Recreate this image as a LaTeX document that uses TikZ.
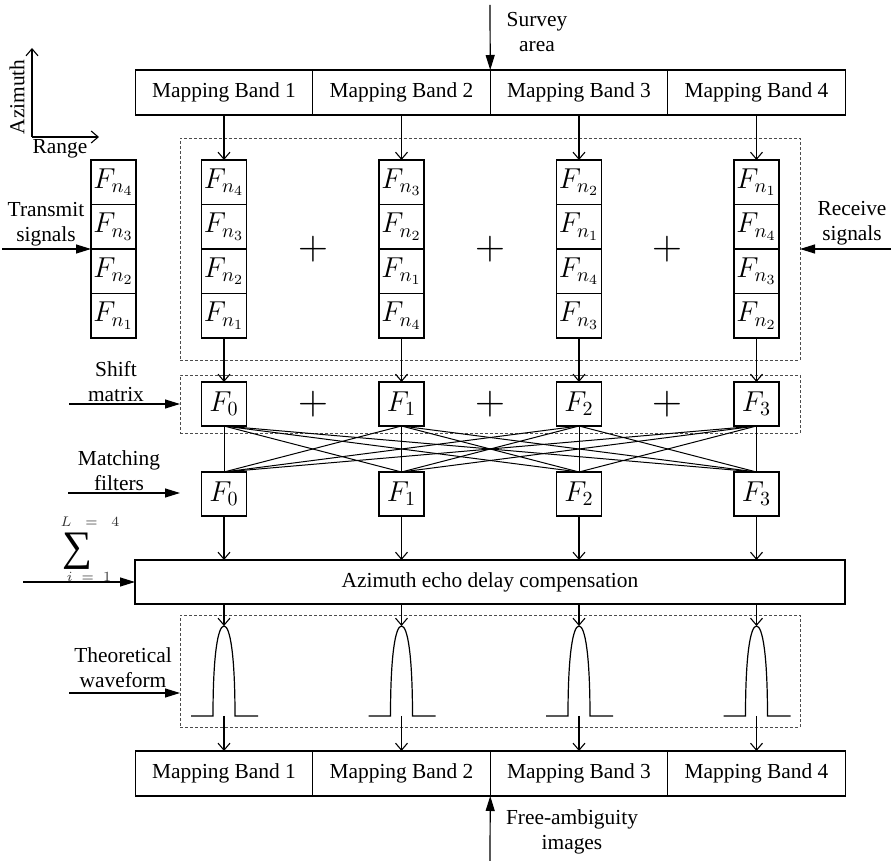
\documentclass[tikz,border=0pt]{standalone}
\usepackage{fontspec}
\setmainfont{Liberation Serif}
\usetikzlibrary{arrows.meta, calc, positioning}
\tikzset{
  bandcell/.style = {draw, line width=0.6pt, minimum width=88.75pt, minimum height=22.5pt,
                     inner sep=0pt, outer sep=0pt, font=\fontsize{10.7}{12.5}\selectfont},
  fcell/.style    = {draw, line width=0.6pt, minimum width=22.5pt, minimum height=22.25pt,
                     inner sep=0pt, outer sep=0pt, font=\fontsize{14}{16}\selectfont},
  grpbox/.style   = {draw=black!70, dash pattern=on 1.5pt off 1pt, line width=0.45pt,
                     minimum width=310pt, inner sep=0pt, outer sep=0pt},
  flowarr/.style  = {-{Straight Barb[length=3.5pt, width=6pt]}, line width=0.55pt},
  sigarr/.style   = {-{Triangle[length=7.5pt, width=4.5pt]}, line width=0.6pt},
  sidelab/.style  = {align=center, font=\fontsize{10.7}{12.5}\selectfont, inner sep=0pt},
  plussign/.style = {font=\fontsize{22}{22}\selectfont, inner sep=0pt},
  limlab/.style   = {font=\fontsize{7}{8}\selectfont, inner sep=0pt, text=black!80},
  xlink/.style    = {line width=0.5pt},
}
\newcommand{\pulse}[2]{% column x, index
  \coordinate (pk#2) at (#1,626);
  \coordinate (pb#2) at (#1,716);
  \draw[line width=0.6pt] ($(pb#2)+(-33,0)$) -- ($(pb#2)+(-11,0)$)
    .. controls ($(pb#2)+(-11,-62)$) and ($(pk#2)+(-6,0)$) .. (pk#2)
    .. controls ($(pk#2)+(6,0)$) and ($(pb#2)+(11,-62)$) .. ($(pb#2)+(11,0)$)
    -- ($(pb#2)+(34,0)$);}

\begin{document}
\begin{tikzpicture}[x=0.5pt, y=-0.5pt]
  \useasboundingbox (0,0) rectangle (891,861);
  % group frames
  \node[grpbox, minimum height=111pt] (mix) at (490,249) {};
  \node[grpbox, minimum height=29pt] (shbox) at (490,404) {};
  \node[grpbox, minimum height=56pt] (wave) at (490,671) {};
  % mapping bands
  \node[bandcell] (tb1) at (224,92.5) {Mapping Band 1};
  \node[bandcell, right=0pt of tb1] (tb2) {Mapping Band 2};
  \node[bandcell, right=0pt of tb2] (tb3) {Mapping Band 3};
  \node[bandcell, right=0pt of tb3] (tb4) {Mapping Band 4};
  \node[bandcell] (bb1) at (224,773.5) {Mapping Band 1};
  \node[bandcell, right=0pt of bb1] (bb2) {Mapping Band 2};
  \node[bandcell, right=0pt of bb2] (bb3) {Mapping Band 3};
  \node[bandcell, right=0pt of bb3] (bb4) {Mapping Band 4};
  % transmit stack
  \node[fcell] (tx1) at (113.5,182.25) {$F_{n_4}$};
  \node[fcell, below=0pt of tx1] (tx2) {$F_{n_3}$};
  \node[fcell, below=0pt of tx2] (tx3) {$F_{n_2}$};
  \node[fcell, below=0pt of tx3] (tx4) {$F_{n_1}$};
  % columns
  \foreach \c/\x/\ka/\kb/\kc/\kd in {1/224/4/3/2/1, 2/401.5/3/2/1/4, 3/579/2/1/4/3, 4/756.5/1/4/3/2} {
    \node[fcell] (s\c1) at (\x,182.25) {$F_{n_{\ka}}$};
    \node[fcell, below=0pt of s\c1] (s\c2) {$F_{n_{\kb}}$};
    \node[fcell, below=0pt of s\c2] (s\c3) {$F_{n_{\kc}}$};
    \node[fcell, below=0pt of s\c3] (s\c4) {$F_{n_{\kd}}$};
    \pgfmathtruncatemacro{\k}{\c-1}
    \node[fcell, minimum height=22pt] (sh\c) at (\x,404) {$F_{\k}$};
    \node[fcell, minimum height=22pt] (mf\c) at (\x,494) {$F_{\k}$};
    \draw[flowarr] (tb\c.south) -- (s\c1.north);
    \draw[flowarr] (s\c4.south) -- (sh\c.north);
  }
  \node[plussign] (pa1) at (313,249) {$+$};
  \node[plussign] (pa2) at (490,249) {$+$};
  \node[plussign] (pa3) at (667,249) {$+$};
  \node[plussign] (pb1) at (313,404) {$+$};
  \node[plussign] (pb2) at (490,404) {$+$};
  \node[plussign] (pb3) at (667,404) {$+$};
  % shift matrix to matching filters
  \foreach \i in {1,...,4}
    \foreach \j in {1,...,4}
      \draw[xlink] (sh\i.south) -- (mf\j.north);
  % compensation
  \node[bandcell, minimum width=355pt, minimum height=22pt] (comp) at (490,582) {Azimuth echo delay compensation};
  \node[inner sep=0pt, font=\fontsize{21}{22}\selectfont] (sumsym) at (77,551) {∑};
  \node[limlab] (sumtop) at (90,522) {$L\;\;=\;\;4$};
  \node[limlab] (sumbot) at (89,577) {$i\;=\;1$};
  \pulse{224}{1}
  \pulse{401.5}{2}
  \pulse{579}{3}
  \pulse{756.5}{4}
  \foreach \c in {1,...,4} {
    \draw[flowarr] (mf\c.south) -- (mf\c.south |- comp.north);
    \draw[flowarr] (comp.south -| pk\c) -- (pk\c);
    \draw[flowarr] (pb\c) -- (bb\c.north);
  }
  % side labels and inputs
  \node[sidelab] (survey) at (537,32) {Survey\\area};
  \node[sidelab] (falab) at (572,832) {Free-ambiguity\\images};
  \node[sidelab] (txlab) at (46,224) {Transmit\\signals};
  \node[sidelab] (rxlab) at (852,223) {Receive\\signals};
  \node[sidelab] (shlab) at (116,382) {Shift\\matrix};
  \node[sidelab] (mflab) at (119,471) {Matching\\filters};
  \node[sidelab] (wvlab) at (123,668) {Theoretical\\waveform};
  \node[sidelab, rotate=90] (azlab) at (17,97) {Azimuth};
  \node[sidelab] (rglab) at (60,149) {Range};
  \coordinate (svy) at (490,5);
  \coordinate (fai) at (490,861);
  \coordinate (txin) at (2,249);
  \coordinate (rxin) at (891,249);
  \coordinate (shin) at (69,404);
  \coordinate (mfin) at (68,493);
  \coordinate (sumin) at (23,582);
  \coordinate (wvin) at (69,693);
  \draw[sigarr] (svy) -- (tb2.north east);
  \draw[sigarr] (fai) -- (bb2.south east);
  \draw[sigarr] (txin) -- (tx2.south west);
  \draw[sigarr] (rxin) -- (mix.east);
  \draw[sigarr] (shin) -- (shbox.west);
  \draw[sigarr] (mfin) -- (mfin -| shbox.west);
  \draw[sigarr] (sumin) -- (comp.west);
  \draw[sigarr] (wvin) -- (wvin -| wave.west);
  % axes
  \coordinate (ax0) at (32,137);
  \coordinate (axa) at (32,48);
  \coordinate (axr) at (99,137);
  \draw[flowarr] (ax0) -- (axa);
  \draw[flowarr] (ax0) -- (axr);
\end{tikzpicture}
\end{document}
